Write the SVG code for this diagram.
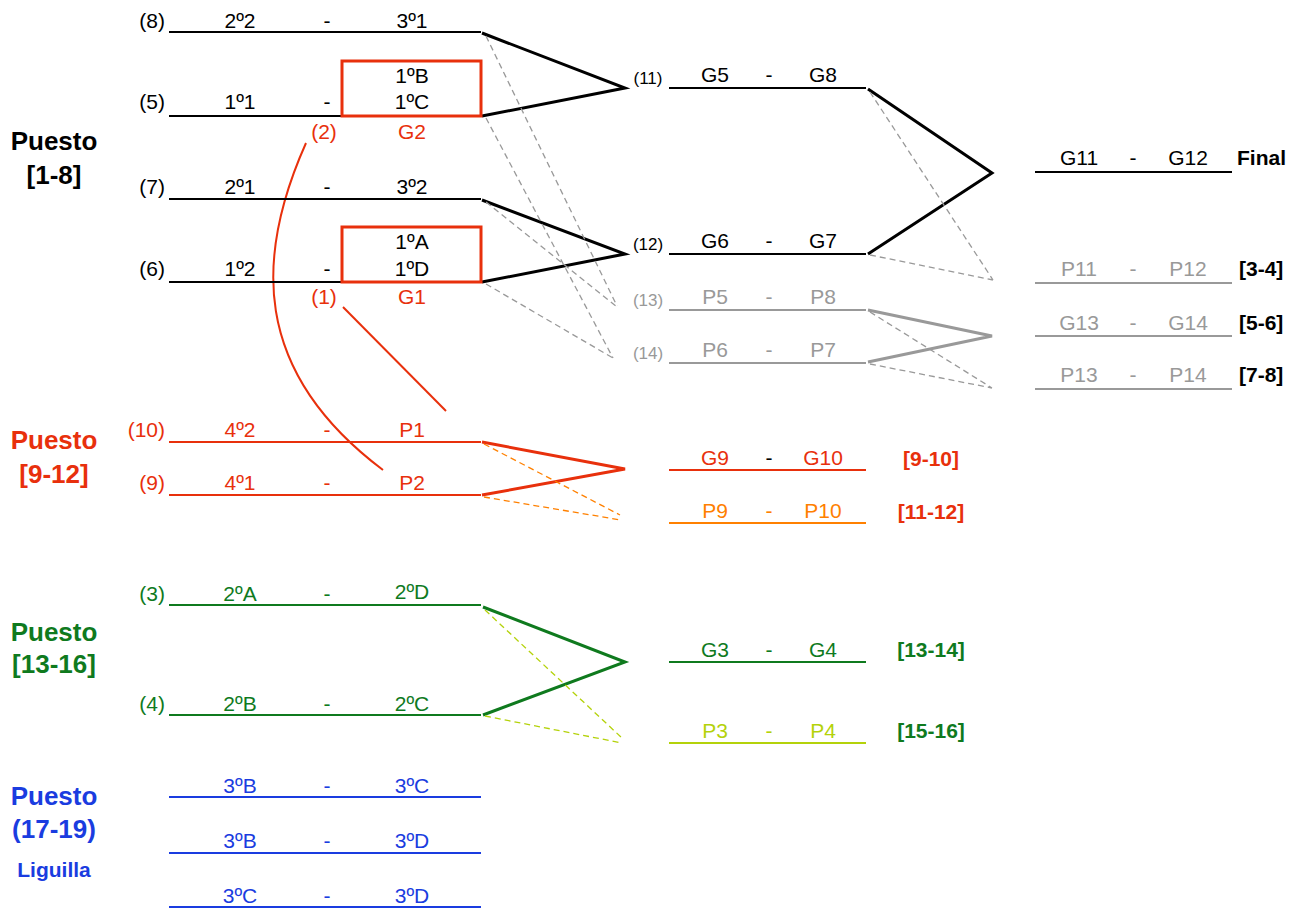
<svg xmlns="http://www.w3.org/2000/svg" width="1296" height="908" viewBox="0 0 1296 908">
<style>
text{font-family:"Liberation Sans",Arial,sans-serif;font-size:21px;text-anchor:middle}
.n{font-family:"Liberation Sans Narrow","Liberation Sans",Arial,sans-serif}
.s{font-size:17px}
.e{text-anchor:end}
.st{text-anchor:start}
.b{font-weight:bold}
.big{font-size:26px;font-weight:bold}
.k{fill:#000}.r{fill:#e8300c}.o{fill:#ff8000}.g{fill:#0f7a1e}.y{fill:#b4d20a}.bl{fill:#1a3ce0}.gr{fill:#999}
.ln{stroke-width:2;fill:none}
.th{stroke-width:3;fill:none}
.da{stroke-width:1.3;fill:none;stroke-dasharray:6 4}
.sk{stroke:#000}.sr{stroke:#e8300c}.so{stroke:#ff8000}.sg{stroke:#0f7a1e}.sy{stroke:#b4d20a}.sb{stroke:#1a3ce0}.sgr{stroke:#999}
</style>

<g id="titles">
<text x="54" y="150" class="big k">Puesto</text>
<text x="54" y="184" class="big k">[1-8]</text>
<text x="54" y="449" class="big r">Puesto</text>
<text x="54" y="483" class="big r">[9-12]</text>
<text x="54" y="641" class="big g">Puesto</text>
<text x="54" y="673" class="big g">[13-16]</text>
<text x="54" y="805" class="big bl">Puesto</text>
<text x="54" y="838" class="big bl">(17-19)</text>
<text x="54" y="877" class="b bl">Liguilla</text>
</g>

<g id="connectors">
<path class="th sk" d="M482,33 L625,88 L482,116"/>
<path class="th sk" d="M482,200 L625,254 L482,282"/>
<path class="da sgr" d="M486,36 L617,306 M486,118 L613,358 M486,202 L617,307 M486,284 L613,358"/>
<path class="th sk" d="M868,89 L992,173 L868,254"/>
<path class="da sgr" d="M870,92 L993,280 M870,255 L993,280"/>
<path class="th sgr" d="M868,310 L992,336 L868,362"/>
<path class="da sgr" d="M870,312 L992,388 M870,364 L992,388"/>
<path class="th sr" d="M482,442 L625,469 L482,495"/>
<path class="da so" d="M484,444 L620,515 M484,497 L621,520"/>
<path class="th sg" d="M483,607 L625,662 L483,715"/>
<path class="da sy" d="M485,610 L622,738 M485,716 L622,743"/>
<path class="ln sr" stroke-width="1.5" d="M306,143 C256,255 250,370 383,470"/>
<path class="ln sr" stroke-width="1.5" d="M343,307 L446,411"/>
</g>

<g id="m8">
<line class="ln sk" x1="169" y1="32" x2="481" y2="32"/>
<text x="165" y="28" class="e k">(8)</text>
<text x="240" y="28" class="k">2º2</text><text x="327" y="28" class="k">-</text><text x="412" y="28" class="k">3º1</text>
</g>
<g id="m5">
<line class="ln sk" x1="169" y1="116" x2="342" y2="116"/>
<rect x="342" y="61" width="139" height="55" fill="none" stroke="#e8300c" stroke-width="3"/>
<text x="165" y="109" class="e k">(5)</text>
<text x="240" y="109" class="k">1º1</text><text x="327" y="109" class="k">-</text>
<text x="412" y="83" class="k">1ºB</text><text x="412" y="109" class="k">1ºC</text>
<text x="324" y="139" class="n r">(2)</text><text x="412" y="139" class="n r">G2</text>
</g>
<g id="m7">
<line class="ln sk" x1="169" y1="199" x2="481" y2="199"/>
<text x="165" y="194" class="e k">(7)</text>
<text x="240" y="194" class="k">2º1</text><text x="327" y="194" class="k">-</text><text x="412" y="194" class="k">3º2</text>
</g>
<g id="m6">
<line class="ln sk" x1="169" y1="282" x2="342" y2="282"/>
<rect x="342" y="227" width="139" height="55" fill="none" stroke="#e8300c" stroke-width="3"/>
<text x="165" y="276" class="e k">(6)</text>
<text x="240" y="276" class="k">1º2</text><text x="327" y="276" class="k">-</text>
<text x="412" y="249" class="k">1ºA</text><text x="412" y="276" class="k">1ºD</text>
<text x="324" y="304" class="n r">(1)</text><text x="412" y="304" class="n r">G1</text>
</g>

<g id="m10">
<line class="ln sr" x1="169" y1="442" x2="481" y2="442"/>
<text x="165" y="437" class="e r">(10)</text>
<text x="240" y="437" class="r">4º2</text><text x="327" y="437" class="r">-</text><text x="412" y="437" class="r">P1</text>
</g>
<g id="m9">
<line class="ln sr" x1="169" y1="495" x2="481" y2="495"/>
<text x="165" y="490" class="e r">(9)</text>
<text x="240" y="490" class="r">4º1</text><text x="327" y="490" class="r">-</text><text x="412" y="490" class="r">P2</text>
</g>

<g id="m3">
<line class="ln sg" x1="169" y1="605" x2="481" y2="605"/>
<text x="165" y="601" class="e g">(3)</text>
<text x="240" y="601" class="g">2ºA</text><text x="327" y="601" class="g">-</text><text x="412" y="599" class="g">2ºD</text>
</g>
<g id="m4">
<line class="ln sg" x1="169" y1="715" x2="481" y2="715"/>
<text x="165" y="711" class="e g">(4)</text>
<text x="240" y="711" class="g">2ºB</text><text x="327" y="711" class="g">-</text><text x="412" y="711" class="g">2ºC</text>
</g>

<g id="l1">
<line class="ln sb" x1="169" y1="797" x2="481" y2="797"/>
<text x="240" y="793" class="bl">3ºB</text><text x="327" y="793" class="bl">-</text><text x="412" y="793" class="bl">3ºC</text>
</g>
<g id="l2">
<line class="ln sb" x1="169" y1="853" x2="481" y2="853"/>
<text x="240" y="848" class="bl">3ºB</text><text x="327" y="848" class="bl">-</text><text x="412" y="848" class="bl">3ºD</text>
</g>
<g id="l3">
<line class="ln sb" x1="169" y1="907" x2="481" y2="907"/>
<text x="240" y="903" class="bl">3ºC</text><text x="327" y="903" class="bl">-</text><text x="412" y="903" class="bl">3ºD</text>
</g>

<g id="m11">
<line class="ln sk" x1="669" y1="88" x2="866" y2="88"/>
<text x="648" y="84" class="n s k">(11)</text>
<text x="715" y="82" class="k">G5</text><text x="769" y="82" class="k">-</text><text x="823" y="82" class="k">G8</text>
</g>
<g id="m12">
<line class="ln sk" x1="669" y1="254" x2="866" y2="254"/>
<text x="648" y="250" class="n s k">(12)</text>
<text x="715" y="248" class="k">G6</text><text x="769" y="248" class="k">-</text><text x="823" y="248" class="k">G7</text>
</g>
<g id="m13">
<line class="ln sgr" x1="669" y1="310" x2="866" y2="310"/>
<text x="648" y="306" class="n s gr">(13)</text>
<text x="715" y="304" class="gr">P5</text><text x="769" y="304" class="gr">-</text><text x="823" y="304" class="gr">P8</text>
</g>
<g id="m14">
<line class="ln sgr" x1="669" y1="363" x2="866" y2="363"/>
<text x="648" y="359" class="n s gr">(14)</text>
<text x="715" y="357" class="gr">P6</text><text x="769" y="357" class="gr">-</text><text x="823" y="357" class="gr">P7</text>
</g>

<g id="m910">
<line class="ln sr" x1="669" y1="470" x2="866" y2="470"/>
<text x="715" y="465" class="r">G9</text><text x="769" y="465" class="k">-</text><text x="823" y="465" class="r">G10</text>
<text x="931" y="466" class="b r">[9-10]</text>
</g>
<g id="m1112">
<line class="ln so" x1="669" y1="523" x2="866" y2="523"/>
<text x="715" y="518" class="o">P9</text><text x="769" y="518" class="o">-</text><text x="823" y="518" class="o">P10</text>
<text x="931" y="519" class="b r">[11-12]</text>
</g>
<g id="m1314">
<line class="ln sg" x1="669" y1="662" x2="866" y2="662"/>
<text x="715" y="657" class="g">G3</text><text x="769" y="657" class="g">-</text><text x="823" y="657" class="g">G4</text>
<text x="931" y="657" class="b g">[13-14]</text>
</g>
<g id="m1516">
<line class="ln sy" x1="669" y1="743" x2="866" y2="743"/>
<text x="715" y="738" class="y">P3</text><text x="769" y="738" class="y">-</text><text x="823" y="738" class="y">P4</text>
<text x="931" y="738" class="b g">[15-16]</text>
</g>

<g id="final">
<line class="ln sk" x1="1035" y1="172" x2="1232" y2="172"/>
<text x="1079" y="165" class="k">G11</text><text x="1133" y="165" class="k">-</text><text x="1188" y="165" class="k">G12</text>
<text x="1237" y="165" class="st b k">Final</text>
</g>
<g id="p34">
<line class="ln sgr" x1="1035" y1="283" x2="1232" y2="283"/>
<text x="1079" y="276" class="gr">P11</text><text x="1133" y="276" class="gr">-</text><text x="1188" y="276" class="gr">P12</text>
<text x="1239" y="276" class="st b k">[3-4]</text>
</g>
<g id="p56">
<line class="ln sgr" x1="1035" y1="336" x2="1232" y2="336"/>
<text x="1079" y="330" class="gr">G13</text><text x="1133" y="330" class="gr">-</text><text x="1188" y="330" class="gr">G14</text>
<text x="1239" y="330" class="st b k">[5-6]</text>
</g>
<g id="p78">
<line class="ln sgr" x1="1035" y1="389" x2="1232" y2="389"/>
<text x="1079" y="382" class="gr">P13</text><text x="1133" y="382" class="gr">-</text><text x="1188" y="382" class="gr">P14</text>
<text x="1239" y="382" class="st b k">[7-8]</text>
</g>
</svg>
